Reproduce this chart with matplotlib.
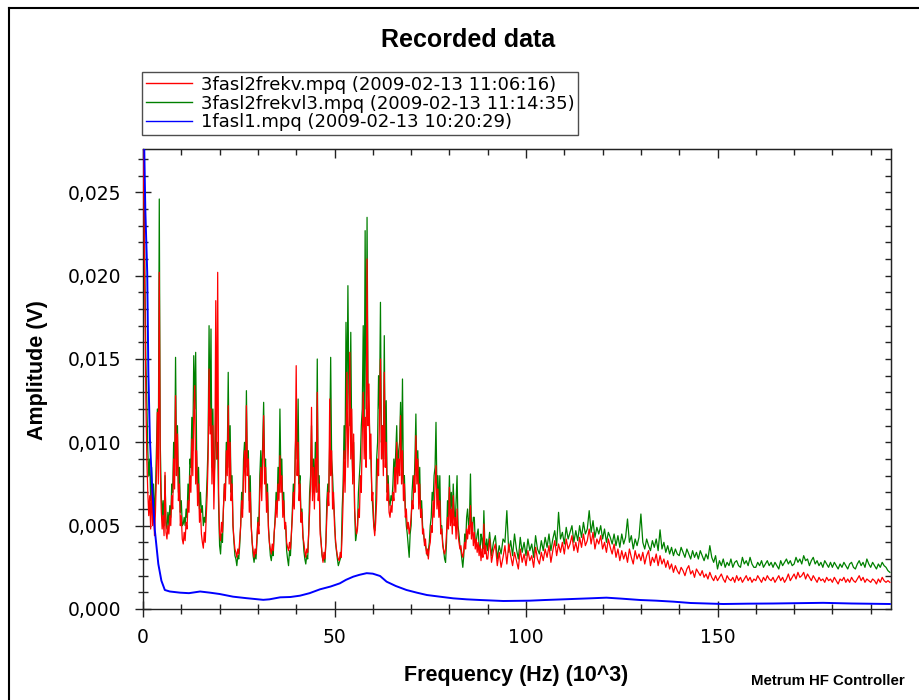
import numpy as np
import matplotlib
matplotlib.use('Agg')
import matplotlib.pyplot as plt
from matplotlib.lines import Line2D
from matplotlib.ticker import MultipleLocator, FuncFormatter, NullFormatter

plt.rcParams['font.family'] = ['Liberation Sans', 'DejaVu Sans']

# legend labels
label_red = '3fasl2frekv.mpq (2009-02-13 11:06:16)'
label_green = '3fasl2frekvl3.mpq (2009-02-13 11:14:35)'
label_blue = '1fasl1.mpq (2009-02-13 10:20:29)'

# frequency bins (kHz): fine part 0..89.75 every 0.25, tail 90..195 every 0.5
freq_fine = np.arange(0, 90, 0.25)
freq_tail = np.arange(90, 195.5, 0.5)

# amplitudes in mV, one row = 5 kHz
red_fine = [
    28.5, 24.0, 18.0, 12.5, 9.0, 7.0, 5.6, 6.8, 4.8, 7.5, 5.0, 6.2, 4.4, 5.8, 8.0, 11.8, 7.5, 20.2, 8.5, 6.0,
    4.8, 5.6, 4.4, 8.2, 4.6, 4.2, 5.0, 4.5, 5.6, 5.0, 6.8, 6.0, 9.0, 7.2, 12.8, 8.0, 10.5, 6.5, 7.5, 5.0,
    5.6, 4.2, 3.9, 4.6, 4.1, 5.2, 4.8, 6.5, 5.8, 8.0, 7.0, 10.2, 8.0, 11.5, 13.4, 7.5, 9.5, 6.2, 7.5, 5.2,
    6.0, 4.5, 4.0, 3.65, 4.6, 4.0, 5.5, 6.8, 9.0, 14.4, 10.5, 12.0, 7.5, 11.0, 6.0, 8.5, 18.5, 9.0, 20.2, 7.0,
    4.5, 4.1, 5.2, 4.6, 6.0, 7.5, 6.5, 9.5, 8.0, 12.2, 7.5, 10.0, 6.5, 7.5, 5.0, 4.2, 3.6, 3.4, 3.1, 3.6,
    3.3, 4.2, 5.0, 6.5, 5.5, 8.0, 9.5, 7.0, 12.2, 8.0, 9.0, 5.8, 7.0, 5.0, 4.0, 3.5, 3.1, 3.6, 3.3, 4.2,
    5.2, 4.5, 7.0, 8.5, 6.5, 9.0, 11.6, 7.5, 8.5, 5.8, 7.0, 4.8, 4.0, 3.6, 3.3, 3.9, 3.5, 4.6, 5.2, 6.5,
    5.5, 7.5, 6.5, 9.2, 7.0, 8.0, 5.5, 6.5, 4.8, 5.2, 4.0, 3.7, 3.5, 4.0, 3.6, 4.6, 5.5, 7.0, 6.0, 9.0,
    14.6, 8.0, 10.0, 6.5, 7.5, 5.2, 5.8, 4.3, 4.0, 3.5, 3.1, 3.6, 3.4, 4.5, 5.8, 7.5, 12.1, 6.5, 8.5, 6.0,
    9.0, 7.0, 13.0, 6.5, 7.5, 4.5, 4.0, 3.3, 2.8, 3.4, 3.0, 4.0, 5.5, 7.0, 6.2, 12.6, 8.0, 9.5, 6.0, 7.0,
    5.0, 4.2, 3.6, 3.2, 3.0, 2.9, 3.4, 3.1, 4.5, 6.5, 9.5, 7.0, 10.0, 14.2, 8.5, 11.0, 15.4, 9.0, 12.0, 7.5,
    10.5, 6.0, 5.0, 4.5, 4.8, 6.0, 5.5, 8.0, 7.0, 10.5, 13.0, 9.0, 11.5, 8.5, 21.0, 11.0, 13.5, 9.0, 10.5, 6.5,
    7.0, 5.0, 4.4, 5.2, 6.5, 9.0, 8.0, 11.5, 15.0, 9.0, 11.0, 8.0, 14.2, 8.5, 10.0, 6.5, 7.5, 5.8, 5.5, 6.2,
    5.8, 7.0, 6.5, 8.5, 7.0, 10.0, 7.5, 9.0, 8.0, 11.6, 7.5, 9.5, 6.5, 7.5, 5.5, 6.0, 4.8, 5.2, 4.5, 4.9,
    5.5, 6.5, 6.0, 8.0, 7.0, 10.4, 7.5, 9.0, 6.0, 7.5, 5.5, 6.0, 4.5, 4.8, 3.8, 4.2, 3.3, 3.6, 3.0, 3.7,
    4.0, 5.0, 4.6, 6.5, 5.5, 7.5, 8.6, 6.0, 7.2, 5.5, 6.5, 4.5, 4.8, 3.8, 3.5, 3.3, 3.6, 4.5, 5.5, 4.8,
    7.3, 5.0, 6.0, 4.5, 6.8, 5.0, 5.5, 4.2, 6.0, 4.5, 4.0, 3.6, 3.8, 3.3, 3.1, 3.5, 4.0, 3.6, 4.8, 4.2,
    5.0, 4.5, 6.2, 4.2, 5.2, 3.8, 4.6, 3.6, 4.2, 3.4, 4.0, 3.2, 3.8, 2.9, 3.6, 3.1, 5.1, 3.3, 3.8, 3.0,
]
red_tail = [
    3.0, 4.2, 2.8, 3.5, 3.9, 2.6, 3.4, 2.5, 3.1, 3.8,
    2.7, 3.9, 3.2, 2.6, 3.4, 2.9, 2.4, 3.6, 2.8, 3.3,
    2.6, 3.5, 2.9, 3.2, 2.5, 3.7, 3.0, 2.7, 3.4, 2.9,
    3.6, 3.1, 3.8, 2.8, 3.5, 4.1, 3.2, 3.9, 3.4, 4.0,
    3.3, 4.2, 3.6, 3.9, 4.4, 3.5, 4.0, 3.4, 4.3, 3.7,
    4.5, 3.8, 4.1, 4.8, 3.9, 4.6, 3.6, 4.2, 3.9, 4.4,
    3.6, 4.0, 3.4, 4.2, 3.7, 3.3, 3.9, 3.1, 3.6, 2.9,
    3.5, 3.0, 3.4, 2.8, 3.6, 3.1, 2.7, 3.5, 3.0, 3.3,
    2.9, 3.4, 2.7, 3.2, 3.5, 2.6, 3.1, 2.8, 3.3, 2.6,
    3.2, 2.7, 3.0, 2.5, 2.9, 2.4, 2.7, 2.2, 2.6, 2.3,
    2.1, 2.5, 2.3, 2.0, 2.4, 2.6, 2.1, 2.3, 1.9, 2.4,
    2.2, 2.0, 2.3, 1.9, 2.1, 1.8, 2.2, 1.9, 1.7, 2.0,
    1.7, 1.9, 2.1, 1.8, 1.6, 2.0, 1.8, 1.7, 1.9, 1.6,
    2.0, 1.7, 1.9, 1.6, 1.8, 2.0, 1.7, 1.9, 1.6, 1.8,
    1.7, 2.0, 1.8, 1.6, 1.9, 1.7, 2.0, 1.8, 1.7, 1.9,
    1.6, 1.8, 2.0, 1.7, 1.9, 1.6, 1.8, 2.1, 1.7, 1.9,
    2.1, 1.8, 2.2, 1.9, 2.0, 2.2, 1.8, 2.1, 1.9, 1.7,
    2.0, 1.8, 1.6, 1.9, 1.7, 1.8, 1.6, 1.9, 1.7, 1.8,
    1.6, 1.9, 1.7, 1.5, 1.8, 1.7, 1.9, 1.6, 1.8, 1.6,
    1.9, 1.7, 1.6, 1.8, 2.0, 1.7, 1.9, 1.6, 1.8, 1.7,
    1.6, 1.8, 1.7, 1.5, 1.8, 1.6, 1.9, 1.7, 1.6, 1.7,
    1.6,
]

green_fine = [
    27.0, 26.2, 20.0, 15.0, 12.5, 9.5, 8.0, 9.0, 6.5, 8.5, 6.0, 7.5, 5.5, 7.0, 9.5, 12.0, 9.0, 24.6, 10.0, 7.0,
    5.5, 6.5, 5.0, 8.0, 5.2, 4.8, 5.8, 5.0, 6.2, 5.5, 7.5, 7.0, 10.0, 8.0, 15.1, 9.0, 11.0, 7.0, 8.5, 5.8,
    6.5, 5.0, 5.1, 5.5, 5.0, 6.0, 5.5, 7.5, 6.5, 9.0, 8.5, 11.5, 9.5, 15.2, 12.0, 15.4, 9.5, 7.0, 8.5, 6.0,
    7.0, 5.8, 6.2, 5.0, 5.5, 5.2, 6.5, 8.0, 10.0, 17.0, 11.0, 16.8, 8.5, 12.0, 7.5, 9.0, 12.0, 9.0, 10.0, 6.0,
    3.8, 3.3, 4.5, 4.0, 6.0, 7.5, 7.0, 10.0, 9.0, 14.2, 8.5, 11.0, 7.0, 8.0, 5.0, 4.0, 3.2, 3.0, 2.6, 3.2,
    3.0, 3.8, 5.0, 7.0, 6.0, 9.0, 10.0, 8.0, 13.1, 8.5, 9.5, 6.5, 8.0, 5.0, 4.0, 3.2, 2.8, 3.3, 3.0, 4.0,
    5.5, 5.0, 8.0, 9.5, 7.5, 10.0, 12.4, 8.5, 9.0, 6.5, 7.5, 5.0, 4.0, 3.2, 2.9, 3.5, 3.2, 4.5, 5.5, 7.0,
    6.0, 8.5, 7.0, 12.0, 8.0, 9.0, 6.0, 7.0, 5.0, 5.0, 3.5, 3.0, 2.6, 3.5, 3.2, 4.5, 6.0, 7.5, 6.5, 9.5,
    11.0, 9.0, 12.6, 7.5, 8.0, 5.5, 6.0, 4.5, 3.5, 3.0, 2.7, 3.2, 3.0, 4.5, 7.0, 8.0, 11.0, 7.0, 9.0, 7.0,
    10.0, 8.0, 15.0, 7.0, 8.0, 5.0, 4.0, 3.2, 2.9, 3.2, 2.8, 4.0, 6.5, 7.5, 7.0, 10.0, 15.1, 9.0, 8.0, 6.5,
    5.5, 4.0, 3.5, 3.0, 2.6, 2.8, 3.0, 3.2, 6.0, 7.5, 11.0, 9.0, 17.2, 12.0, 19.4, 13.0, 11.0, 16.6, 10.0, 8.0,
    10.0, 6.0, 4.1, 4.5, 5.0, 7.0, 8.0, 9.0, 11.0, 12.0, 17.0, 11.0, 22.7, 12.0, 23.5, 13.0, 12.0, 10.0, 9.0, 7.0,
    6.0, 5.0, 4.7, 6.0, 9.0, 10.0, 14.0, 12.0, 18.4, 10.0, 11.0, 9.0, 16.4, 9.0, 12.5, 7.0, 8.0, 6.5, 6.2, 6.8,
    6.5, 7.5, 9.0, 8.0, 9.5, 11.0, 8.0, 9.5, 10.0, 12.4, 9.0, 13.8, 7.5, 8.0, 6.0, 5.0, 4.5, 3.8, 3.1, 4.5,
    5.0, 7.0, 8.0, 7.0, 9.0, 11.7, 8.0, 9.5, 7.0, 8.5, 5.5, 6.5, 5.0, 4.5, 4.0, 3.8, 3.5, 3.2, 3.5, 4.0,
    5.0, 5.5, 7.0, 6.5, 8.0, 8.5, 11.2, 7.0, 8.0, 6.0, 8.0, 5.0, 5.0, 4.0, 3.5, 3.0, 2.8, 4.0, 6.5, 5.5,
    8.0, 6.0, 7.0, 5.5, 7.5, 6.0, 5.0, 6.5, 8.0, 5.0, 4.5, 3.8, 3.5, 3.0, 2.5, 3.2, 4.5, 4.0, 5.5, 6.0,
    5.0, 5.5, 8.1, 5.0, 4.5, 5.5, 5.5, 4.0, 4.0, 4.5, 4.8, 3.8, 3.4, 4.5, 4.2, 3.6, 5.9, 4.0, 3.6, 4.2,
]
green_tail = [
    3.5, 4.6, 3.2, 4.0, 4.4, 3.0, 3.8, 3.3, 4.2, 4.0,
    5.9, 3.4, 4.1, 3.2, 4.5, 3.6, 3.0, 4.3, 3.4, 4.0,
    3.2, 4.2, 3.5, 3.9, 3.1, 4.4, 3.6, 3.3, 4.1, 3.5,
    4.3, 3.7, 4.5, 3.5, 4.2, 4.7, 3.8, 5.8, 4.2, 4.6,
    3.9, 4.9, 4.2, 4.6, 5.0, 4.0, 4.7, 4.1, 5.0, 4.3,
    5.2, 4.5, 4.8, 5.9, 4.6, 5.3, 4.3, 4.9, 4.5, 5.0,
    4.2, 4.8, 4.0, 4.6, 4.3, 3.9, 4.5, 3.8, 4.4, 3.7,
    4.5, 3.9, 4.3, 5.4, 4.0, 4.4, 3.6, 4.2, 3.8, 4.3,
    5.7, 4.0, 3.6, 4.2, 3.8, 3.5, 4.1, 3.7, 4.2, 3.5,
    4.75, 3.6, 4.0, 3.4, 3.8, 3.3, 3.7, 3.2, 3.6, 3.3,
    3.2, 3.7, 3.4, 3.1, 3.6, 3.3, 3.0, 3.5, 3.1, 3.4,
    3.0, 3.5, 3.2, 2.9, 3.3, 3.0, 3.8, 3.1, 2.8, 3.2,
    2.4, 2.9, 2.6, 3.0, 2.5, 2.8, 2.6, 3.0, 2.5, 2.8,
    2.9, 2.6, 2.5, 3.1, 2.7, 2.9, 2.6, 3.1, 2.7, 2.5,
    2.5, 2.8, 2.6, 2.9, 2.5, 2.7, 2.9, 2.6, 2.8, 2.5,
    2.8, 2.6, 2.4, 2.9, 2.6, 2.8, 3.0, 2.7, 2.9, 2.6,
    2.7, 3.1, 2.8, 3.0, 2.7, 3.2, 2.9, 3.0, 2.6, 2.9,
    3.1, 2.7, 2.9, 2.6, 2.8, 2.5, 2.9, 2.7, 2.5, 2.8,
    2.5, 2.8, 2.6, 2.4, 2.7, 2.5, 2.8, 2.6, 2.4, 2.7,
    2.8, 2.5, 2.4, 2.7, 2.9, 2.6, 2.8, 2.5, 3.0, 2.7,
    2.5, 2.8, 2.6, 2.4, 2.7, 2.5, 2.8, 2.6, 2.5, 2.3,
    2.2,
]

blue_freq = [0.0, 0.3, 0.6, 1.1, 1.4, 1.8, 2.4, 3.1, 4.0, 4.8, 5.7, 7.0, 9.7,
             12.0, 14.9, 17.5, 20.0, 23.5, 27.0, 31.4, 33.0, 35.8, 38.5, 41.0,
             43.5, 46.2, 49.0, 51.4, 53.0, 54.9, 56.5, 58.4, 60.0, 61.9, 63.6,
             66.0, 68.8, 71.5, 74.1, 77.5, 81.0, 84.5, 88.0, 94.1, 101.0, 105.0,
             109.7, 116.7, 121.0, 125.0, 129.8, 134.0, 138.5, 143.0, 151.5,
             158.0, 164.5, 171.0, 177.6, 185.0, 195.0]
blue_amp = [28.5, 28.0, 24.0, 20.2, 14.2, 10.2, 7.2, 4.7, 2.7, 1.7, 1.14, 1.05,
            0.98, 0.95, 1.05, 0.98, 0.9, 0.74, 0.65, 0.55, 0.58, 0.7, 0.72, 0.8,
            0.95, 1.18, 1.35, 1.54, 1.75, 1.94, 2.05, 2.15, 2.12, 1.98, 1.64,
            1.38, 1.14, 0.98, 0.84, 0.74, 0.64, 0.58, 0.54, 0.48, 0.5, 0.54,
            0.58, 0.64, 0.68, 0.62, 0.54, 0.5, 0.44, 0.36, 0.30, 0.32, 0.33,
            0.35, 0.37, 0.33, 0.30]

freq = np.concatenate([freq_fine, freq_tail])
red = np.array(red_fine + red_tail) / 1000.0
green = np.array(green_fine + green_tail) / 1000.0
blue = np.array(blue_amp) / 1000.0

W, H = 919, 700
fig = plt.figure(figsize=(W / 100, H / 100), dpi=100)
ax = fig.add_axes([143 / W, 1 - 609 / H, (891 - 143) / W, (609 - 149) / H])

ax.plot(freq, green, color='#008000', lw=0.9, zorder=2)
ax.plot(freq, red, color='#ff0000', lw=0.9, zorder=3)
ax.plot(blue_freq, blue, color='#0000ff', lw=1.4, zorder=4)

ax.set_xlim(0, 195.3)
ax.set_ylim(0, 0.0276)

ax.xaxis.set_major_locator(MultipleLocator(50))
ax.xaxis.set_minor_locator(MultipleLocator(10))
ax.yaxis.set_major_locator(MultipleLocator(0.005))
ax.yaxis.set_minor_locator(MultipleLocator(0.001))
ax.yaxis.set_major_formatter(FuncFormatter(lambda v, p: f'{v:.3f}'.replace('.', ',')))
ax.xaxis.set_major_formatter(FuncFormatter(lambda v, p: f'{v:.0f}'))

tick_col = '#222222'
ax.tick_params(axis='both', which='major', direction='inout', length=12, width=1,
               labelsize=13.5, color=tick_col, top=False, right=False)
ax.tick_params(axis='both', which='minor', direction='inout', length=7.5, width=1,
               color=tick_col, top=False, right=False)
ax.tick_params(axis='x', which='major', pad=8)
ax.tick_params(axis='y', which='major', pad=10)
for lab in ax.get_xticklabels() + ax.get_yticklabels():
    lab.set_family('DejaVu Sans')
for s in ax.spines.values():
    s.set_linewidth(1.0)
    s.set_color(tick_col)

# inward ticks on the top and right edges
top = ax.secondary_xaxis('top')
top.xaxis.set_major_locator(MultipleLocator(50))
top.xaxis.set_minor_locator(MultipleLocator(10))
top.xaxis.set_major_formatter(NullFormatter())
top.tick_params(which='major', direction='in', length=6.5, width=1, color=tick_col)
top.tick_params(which='minor', direction='in', length=4.5, width=1, color=tick_col)
right = ax.secondary_yaxis('right')
right.yaxis.set_major_locator(MultipleLocator(0.005))
right.yaxis.set_minor_locator(MultipleLocator(0.001))
right.yaxis.set_major_formatter(NullFormatter())
right.tick_params(which='major', direction='in', length=4, width=1, color=tick_col)
right.tick_params(which='minor', direction='in', length=4, width=1, color=tick_col)
for sec in (top, right):
    for s in sec.spines.values():
        s.set_color(tick_col)

# legend
handles = [Line2D([], [], color='#ff0000', lw=1),
           Line2D([], [], color='#008000', lw=1),
           Line2D([], [], color='#0000ff', lw=1)]
leg = fig.legend(handles, [label_red, label_green, label_blue],
                 loc='upper left', bbox_to_anchor=(142 / W, 1 - 72 / H),
                 prop={'family': 'DejaVu Sans', 'size': 13}, frameon=True,
                 fancybox=False, shadow=False, borderpad=0.2, labelspacing=0.05,
                 handlelength=2.55, handletextpad=0.5, borderaxespad=0)
leg.get_frame().set_edgecolor(tick_col)
leg.get_frame().set_linewidth(1.0)

fig.text(468 / W, 1 - 40 / H, 'Recorded data', ha='center', va='center',
         fontsize=18, fontweight='bold')
fig.text(38 / W, 1 - 370 / H, 'Amplitude (V)', ha='center', va='center',
         rotation=90, fontsize=15.5, fontweight='bold')
fig.text(516 / W, 1 - 676 / H, 'Frequency (Hz) (10^3)', ha='center', va='center',
         fontsize=15.5, fontweight='bold')
fig.text(905 / W, 1 - 681 / H, 'Metrum HF Controller', ha='right', va='center',
         fontsize=10.8, fontweight='bold')

# outer frame (top and left edges)
fig.add_artist(Line2D([9 / W, 1], [1 - 8 / H, 1 - 8 / H], color='black', lw=1.5,
                      transform=fig.transFigure))
fig.add_artist(Line2D([9 / W, 9 / W], [0, 1 - 8 / H], color='black', lw=1.5,
                      transform=fig.transFigure))

fig.savefig('out.png', dpi=100)
